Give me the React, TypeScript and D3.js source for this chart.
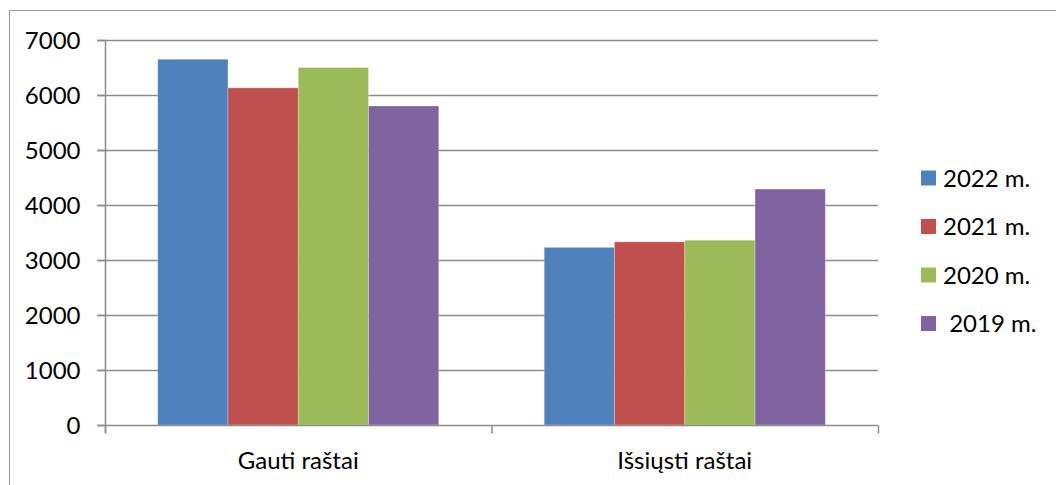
import React, { useEffect, useRef } from "react";
import * as d3 from "d3";

const categories = ["Gauti raštai", "Išsiųsti raštai"];
const seriesNames = ["2022 m.", "2021 m.", "2020 m.", " 2019 m."];
const seriesColors = ["#4F81BD", "#C0504D", "#9BBB59", "#8064A2"];
const values2022 = [6650, 3230];
const values2021 = [6130, 3330];
const values2020 = [6500, 3360];
const values2019 = [5800, 4290];
const yTicks = [0, 1000, 2000, 3000, 4000, 5000, 6000, 7000];

const seriesValues = [values2022, values2021, values2020, values2019];

export default function App() {
  const ref = useRef<SVGSVGElement>(null);

  useEffect(() => {
    const width = 1056;
    const height = 485;
    const font = "Lato, 'Noto Sans', sans-serif";
    const fontSize = 24;

    const svg = d3.select(ref.current);
    svg.selectAll("*").remove();
    svg.attr("width", width).attr("height", height);

    // outer chart frame (runs off the right and bottom edges)
    svg
      .append("rect")
      .attr("x", 9.5)
      .attr("y", 10.5)
      .attr("width", 1100)
      .attr("height", 500)
      .attr("fill", "white")
      .attr("stroke", "#9a9a9a")
      .attr("stroke-width", 1);

    const x0 = d3.scaleBand().domain(categories).range([105, 878]).padding(0);
    const x1 = d3
      .scaleBand()
      .domain(seriesNames)
      .range([0, x0.bandwidth()])
      .paddingInner(0)
      .paddingOuter(0.75);
    const y = d3.scaleLinear().domain([0, 7000]).range([425, 40]);

    // gridlines
    svg
      .append("g")
      .selectAll("line")
      .data(yTicks.filter(t => t > 0))
      .enter()
      .append("line")
      .attr("x1", 97)
      .attr("x2", 878)
      .attr("y1", d => Math.round(y(d)) + 0.5)
      .attr("y2", d => Math.round(y(d)) + 0.5)
      .attr("stroke", "#8c8c8c")
      .attr("stroke-width", 1.5);

    // bars
    const groups = svg
      .append("g")
      .selectAll("g")
      .data(categories)
      .enter()
      .append("g")
      .attr("transform", d => "translate(" + x0(d) + ",0)");

    groups
      .selectAll("rect")
      .data((d, i) => seriesNames.map((s, j) => ({ s, j, v: seriesValues[j][i] })))
      .enter()
      .append("rect")
      .attr("x", d => x1(d.s))
      .attr("y", d => y(d.v))
      .attr("width", x1.bandwidth())
      .attr("height", d => y(0) - y(d.v))
      .attr("fill", d => seriesColors[d.j])
      .attr("stroke", "rgba(255,255,255,0.35)")
      .attr("stroke-width", 0.8);

    // y axis
    const yAxis = svg
      .append("g")
      .attr("transform", "translate(105.5,0)")
      .call(d3.axisLeft(y).tickValues(yTicks).tickSize(8).tickPadding(17).tickFormat(d3.format("d")));
    yAxis.select(".domain").attr("stroke", "#8c8c8c").attr("stroke-width", 1.5).attr("d", "M0,40V433");
    yAxis.selectAll(".tick line").attr("stroke", "#8c8c8c").attr("stroke-width", 1.5);
    yAxis
      .selectAll(".tick text")
      .attr("font-family", font)
      .attr("font-size", fontSize)
      .attr("fill", "#000")
      .attr("dy", "0.36em");

    // x axis
    const xAxis = svg.append("g").attr("transform", "translate(0,425.5)");
    xAxis
      .append("line")
      .attr("x1", 97)
      .attr("x2", 878)
      .attr("stroke", "#8c8c8c")
      .attr("stroke-width", 1.5);
    xAxis
      .selectAll(".ctick")
      .data([105, 105 + x0.bandwidth(), 878])
      .enter()
      .append("line")
      .attr("x1", d => d + 0.5)
      .attr("x2", d => d + 0.5)
      .attr("y1", 0)
      .attr("y2", 8)
      .attr("stroke", "#8c8c8c")
      .attr("stroke-width", 1.5);
    xAxis
      .selectAll("text")
      .data(categories)
      .enter()
      .append("text")
      .attr("x", d => (x0(d) as number) + x0.bandwidth() / 2)
      .attr("y", 43)
      .attr("text-anchor", "middle")
      .attr("font-family", font)
      .attr("font-size", fontSize)
      .attr("fill", "#000")
      .text(d => d);

    // legend
    const legend = svg
      .append("g")
      .selectAll("g")
      .data(seriesNames)
      .enter()
      .append("g")
      .attr("transform", (d, i) => "translate(921," + (178 + i * 48.5) + ")");
    legend
      .append("rect")
      .attr("x", 0)
      .attr("y", -7.5)
      .attr("width", 15)
      .attr("height", 15)
      .attr("fill", (d, i) => seriesColors[i]);
    legend
      .append("text")
      .attr("x", 22)
      .attr("y", 0)
      .attr("dy", "0.36em")
      .attr("font-family", font)
      .attr("font-size", fontSize)
      .attr("fill", "#000")
      .attr("xml:space", "preserve")
      .style("white-space", "pre")
      .text(d => d);
  }, []);

  return (
    <div style={{ position: "absolute", left: 0, top: 0 }}>
      <svg ref={ref} style={{ display: "block" }} />
    </div>
  );
}
